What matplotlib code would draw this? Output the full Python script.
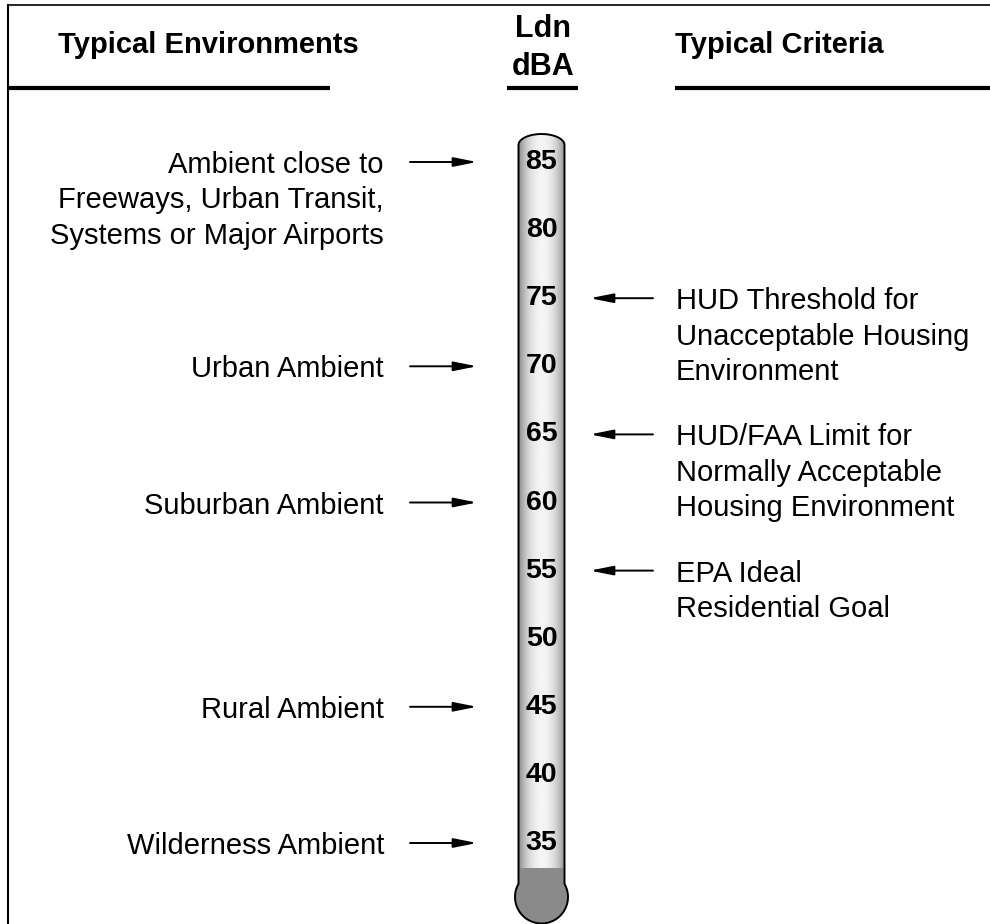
import numpy as np
import matplotlib
matplotlib.use("Agg")
import matplotlib.pyplot as plt
from matplotlib.patches import PathPatch, Rectangle
from matplotlib.path import Path
from matplotlib.patches import FancyArrowPatch

plt.rcParams['font.family'] = ['Liberation Sans', 'DejaVu Sans']

# data
scale_levels = [85, 80, 75, 70, 65, 60, 55, 50, 45, 40, 35]
env_labels = ["Ambient close to\nFreeways, Urban Transit,\nSystems or Major Airports",
              "Urban Ambient", "Suburban Ambient", "Rural Ambient", "Wilderness Ambient"]
env_levels = [85, 70, 60, 45, 35]
crit_labels = ["HUD Threshold for\nUnacceptable Housing\nEnvironment",
               "HUD/FAA Limit for\nNormally Acceptable\nHousing Environment",
               "EPA Ideal\nResidential Goal"]
crit_levels = [75, 65, 55]

W, H = 990, 924
fig = plt.figure(figsize=(W / 100, H / 100), dpi=100)

# layout axes in pixels (frame, headers)
lay = fig.add_axes([0, 0, 1, 1])
lay.set_xlim(0, W)
lay.set_ylim(H, 0)
lay.axis('off')

# scale axes: x in pixels, y in dBA
ax = fig.add_axes([0, 0, 1, 1])
px = 5 / 68.1  # dB per pixel
ax.set_xlim(0, W)
ax.set_ylim(85 - (H - 162) * px, 85 + 162 * px)
ax.axis('off')
ax.patch.set_alpha(0)

# frame
lay.plot([8, W], [5, 5], color='black', lw=1.2)
lay.plot([8, 8], [5, H], color='black', lw=1.5)

# headers
lay.text(208, 53, "Typical Environments", ha='center', va='baseline',
         fontsize=21, fontweight='bold')
lay.text(543, 37, "Ldn", ha='center', va='baseline', fontsize=22, fontweight='bold')
lay.text(543, 75, "dBA", ha='center', va='baseline', fontsize=22, fontweight='bold')
lay.text(675, 53, "Typical Criteria", ha='left', va='baseline',
         fontsize=21, fontweight='bold')
for x0, x1 in [(8, 330), (507, 578), (675, W)]:
    lay.plot([x0, x1], [88, 88], color='black', lw=3, solid_capstyle='butt')

# thermometer
cx, r_tube, r_bulb = 541.5, 23, 26.5
y_cap = 85 + (162 - 145) * px
y_bulb = 85 - (897 - 162) * px
y_gray = 85 - (868 - 162) * px
a0 = np.arccos(r_tube / r_bulb)
t = np.linspace(0, np.pi, 60)
cap = np.column_stack([cx + r_tube * np.cos(t), y_cap + 11 * px * np.sin(t)])
a = np.linspace(np.pi - a0, 2 * np.pi + a0, 120)
bulb = np.column_stack([cx + r_bulb * np.cos(a), y_bulb + r_bulb * px * np.sin(a)])
verts = np.vstack([cap, bulb, cap[:1]])
tube = PathPatch(Path(verts), facecolor='none', edgecolor='none')
ax.add_patch(tube)

u = np.linspace(0, 1, 200)
shade = 0.52 + 0.44 * np.sin(np.pi * u) ** 0.7
grad = np.tile(shade, (10, 1))
img = ax.imshow(grad, cmap='gray', vmin=0, vmax=1, aspect='auto',
                extent=[cx - r_tube, cx + r_tube, y_bulb - r_bulb * px, y_cap + 12 * px],
                interpolation='bilinear', zorder=1)
img.set_clip_path(tube)
fill = Rectangle((cx - 30, y_bulb - 40 * px), 60, y_gray - (y_bulb - 40 * px),
                 facecolor='#8a8a8a', edgecolor='none', zorder=2)
ax.add_patch(fill)
fill.set_clip_path(tube)
ax.add_patch(PathPatch(Path(verts), facecolor='none', edgecolor='black', lw=1.4, zorder=3))

for lv in scale_levels:
    ax.text(cx, lv, str(lv), ha='center', va='center', fontsize=20.5,
            fontweight='bold', zorder=4)

line_gap = 35.5 * px

def arrow(x0, x1, y):
    ax.add_patch(FancyArrowPatch((x0, y), (x1, y),
                                 arrowstyle='-|>,head_length=14,head_width=2.8',
                                 mutation_scale=1, color='black', lw=1.4,
                                 shrinkA=0, shrinkB=0, zorder=4))

for lab, lv in zip(env_labels, env_levels):
    arrow(410, 477, lv)
    for i, line in enumerate(lab.split('\n')):
        ax.text(384, lv - i * line_gap, line, ha='right', va='center_baseline', fontsize=21)

for lab, lv in zip(crit_labels, crit_levels):
    arrow(653, 590, lv)
    for i, line in enumerate(lab.split('\n')):
        ax.text(676, lv - i * line_gap, line, ha='left', va='center_baseline', fontsize=21)

fig.savefig('out.png', dpi=100)
